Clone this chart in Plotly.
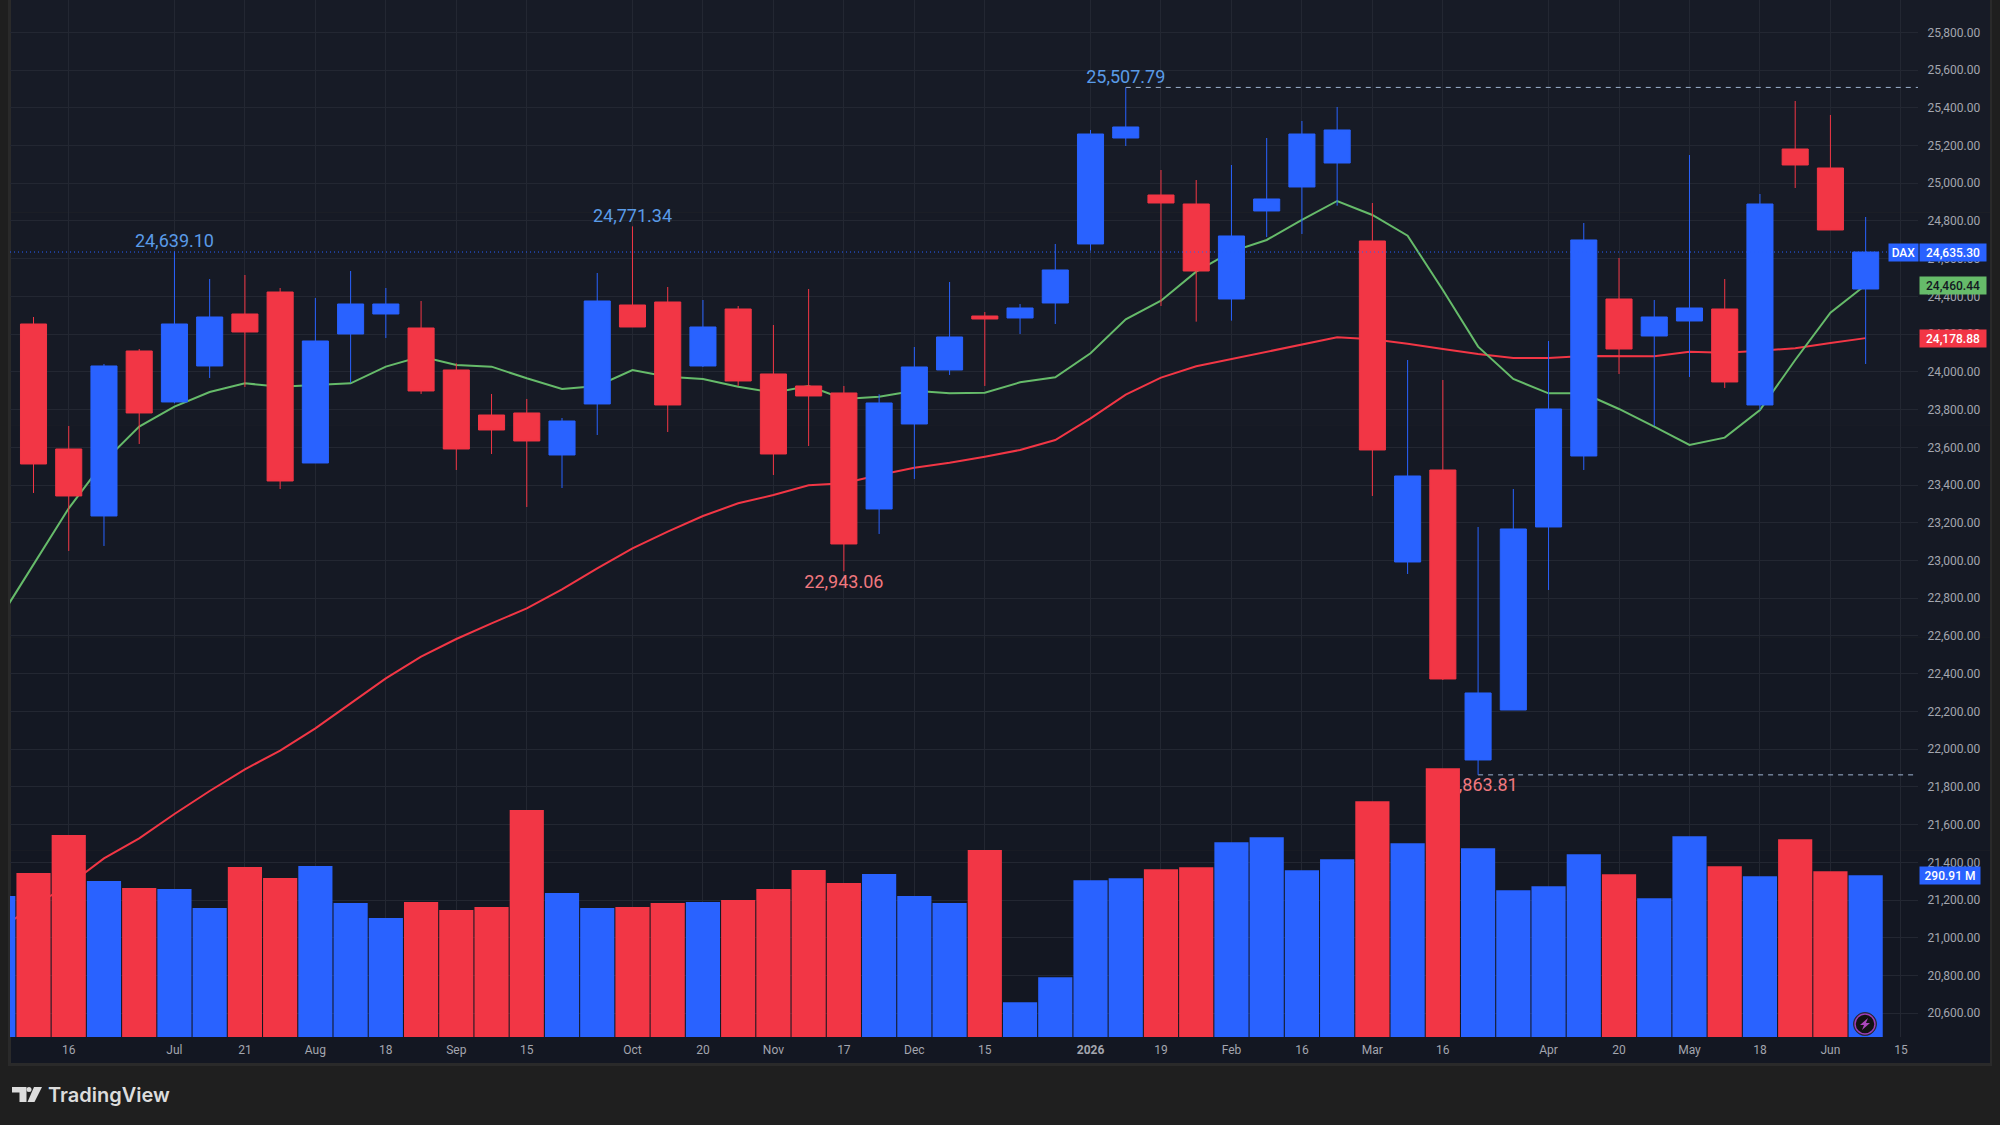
import pandas as pd
import plotly.graph_objects as go

# Weekly DAX candles, June 2025 to June 2026
first_week = "2025-06-09"
opens = [24253.8, 23591.2, 23236.1, 24110.7, 23840.4, 24031.2, 24306.8, 24423.4, 23517.0, 24200.8,
         24306.8, 24232.6, 24010.0, 23771.4, 23782.1, 23559.4, 23829.8, 24354.5, 24370.4, 24031.2,
         24333.3, 23988.8, 23925.2, 23888.1, 23273.2, 23723.7, 24010.0, 24296.2, 24285.6, 24365.1,
         24677.9, 25239.7, 24937.6, 24889.9, 24386.3, 24852.8, 24980.0, 25107.2, 24693.8, 22992.2,
         23479.9, 21942.7, 22207.7, 23177.8, 23554.1, 24386.3, 24190.2, 24269.7, 24333.3, 23824.5,
         25181.4, 25080.7, 24439.3]
highs = [24290.9, 23713.1, 24041.8, 24121.3, 24639.10, 24492.3, 24513.5, 24444.6, 24391.6, 24534.7,
         24444.6, 24375.7, 24045.3, 23882.8, 23856.3, 23755.5, 24524.1, 24771.34, 24449.9, 24381.0,
         24349.2, 24248.5, 24439.3, 23925.2, 23881.0, 24131.9, 24476.4, 24317.4, 24359.8, 24677.9,
         25282.2, 25507.79, 25070.1, 25017.1, 25096.6, 25239.7, 25329.9, 25404.1, 24895.2, 24063.0,
         23957.0, 23177.8, 23379.2, 24163.7, 24789.2, 24603.7, 24381.0, 25149.6, 24492.3, 24942.9,
         25435.9, 25361.7, 24821.0]
lows = [23358.0, 23050.6, 23077.1, 23617.7, 23833.3, 23967.6, 23919.9, 23379.2, 23517.0, 23942.8,
        24179.6, 23882.8, 23479.9, 23564.7, 23283.8, 23384.5, 23665.4, 24237.9, 23681.3, 24025.9,
        23925.2, 23453.4, 23607.1, 22943.06, 23140.7, 23432.2, 23983.5, 23925.2, 24200.8, 24253.8,
        24642.5, 25197.3, 24349.2, 24266.2, 24271.5, 24715.0, 24730.9, 24881.1, 23342.1, 22928.6,
        22366.8, 21863.81, 22207.7, 22843.8, 23479.9, 23988.8, 23713.2, 23972.9, 23914.6, 23798.0,
        24974.7, 24752.1, 24041.8]
closes = [23511.7, 23342.1, 24031.2, 23782.1, 24253.8, 24290.9, 24211.4, 23421.6, 24163.7, 24359.8,
          24359.8, 23898.7, 23591.2, 23691.9, 23633.6, 23739.6, 24375.7, 24237.9, 23824.5, 24237.9,
          23951.7, 23564.7, 23872.2, 23087.7, 23835.1, 24025.9, 24184.9, 24280.3, 24338.6, 24540.1,
          25260.9, 25298.1, 24895.2, 24534.7, 24720.3, 24916.4, 25260.9, 25282.2, 23585.9, 23448.1,
          22372.1, 22297.9, 23167.2, 23803.3, 24699.1, 24121.3, 24290.9, 24338.6, 23946.4, 24889.9,
          25096.6, 24752.1, 24635.30]

# Moving averages start one week earlier than the visible candles
ma_fast = [22681.0, 22976.3, 23276.7, 23524.1, 23709.6, 23815.6, 23893.4, 23939.3, 23921.6, 23930.5,
           23939.3, 24027.6, 24080.7, 24036.5, 24027.6, 23965.8, 23909.3, 23925.2, 24010.0, 23974.6,
           23962.3, 23921.6, 23889.8, 23925.2, 23856.3, 23868.6, 23900.4, 23886.3, 23889.8, 23944.6,
           23971.1, 24098.3, 24278.5, 24377.5, 24531.2, 24637.2, 24699.1, 24805.1, 24905.8, 24831.6,
           24722.0, 24434.0, 24133.7, 23962.3, 23886.3, 23886.3, 23803.3, 23709.6, 23612.4, 23651.3,
           23798.0, 24063.0, 24313.9, 24460.44]
ma_slow = [21041.5, 21168.8, 21280.1, 21421.4, 21527.4, 21656.4, 21778.3, 21893.2, 21992.1, 22110.5,
           22243.0, 22375.6, 22490.4, 22584.0, 22667.1, 22746.6, 22847.4, 22958.7, 23064.7, 23153.0,
           23236.1, 23303.2, 23347.4, 23398.6, 23409.2, 23453.4, 23492.3, 23518.8, 23550.6, 23585.9,
           23638.9, 23753.8, 23879.2, 23969.3, 24029.4, 24068.3, 24103.6, 24142.5, 24183.2, 24172.5,
           24149.6, 24121.3, 24094.8, 24073.6, 24073.6, 24084.2, 24082.4, 24082.4, 24107.2, 24101.9,
           24112.5, 24124.8, 24153.1, 24178.88]

# Volume in millions, including the partly visible first week
volumes = [253.7, 295.1, 363.5, 280.7, 268.1, 266.3, 232.1, 305.9, 286.1, 307.7, 241.1, 214.1, 242.9, 228.5,
           233.9, 408.5, 259.1, 232.1, 233.9, 241.1, 242.9, 246.5, 266.3, 300.5, 277.1, 293.3, 253.7, 241.1,
           336.5, 62.4, 107.4, 281.9, 285.5, 301.7, 305.3, 350.3, 359.3, 299.9, 319.7, 424.1, 348.5, 483.4,
           339.5, 263.9, 271.1, 328.7, 292.7, 249.5, 361.1, 307.1, 289.1, 355.7, 298.1, 290.91]
volume_up = [1, 0, 0, 1, 0, 1, 1, 0, 0, 1, 1, 1, 0, 0, 0, 0, 1, 1, 0, 0, 1, 0, 0, 0, 0, 1, 1, 1,
             0, 1, 1, 1, 1, 0, 0, 1, 1, 1, 1, 0, 1, 0, 1, 1, 1, 1, 0, 1, 1, 0, 1, 0, 0, 1]

price_ticks = list(range(20600, 26000, 200))
time_labels = ["16", "Jul", "21", "Aug", "18", "Sep", "15", "Oct", "20", "Nov", "17", "Dec", "15",
               "<b>2026</b>", "19", "Feb", "16", "Mar", "16", "Apr", "20", "May", "18", "Jun", "15"]
time_dates = ["2025-06-16", "2025-07-07", "2025-07-21", "2025-08-04", "2025-08-18", "2025-09-01",
              "2025-09-15", "2025-10-06", "2025-10-20", "2025-11-03", "2025-11-17", "2025-12-01",
              "2025-12-15", "2026-01-05", "2026-01-19", "2026-02-02", "2026-02-16", "2026-03-02",
              "2026-03-16", "2026-04-06", "2026-04-20", "2026-05-04", "2026-05-18", "2026-06-01",
              "2026-06-15"]

BLUE = "#2962ff"
RED = "#f23645"
GREEN = "#66bb6a"
PAPER = "#1f1f1f"
PANEL_EDGE = "#2a2a2a"
GRID = "#232732"
TICK_TEXT = "#a3a6af"
SANS = "Roboto, Arial, sans-serif"

# Canvas geometry in pixels
WIDTH, HEIGHT = 2000, 1125
PLOT_L, PLOT_R, PLOT_B = 10, 1918, 1037
PANEL_R, PANEL_B = 1990, 1063


def px(x):
    return (x - PLOT_L) / (PLOT_R - PLOT_L)


def py(y):
    return 1 - y / PLOT_B


weeks = pd.date_range(first_week, periods=len(closes), freq="7D")
volume_weeks = pd.date_range(weeks[0] - pd.Timedelta(days=7), periods=len(volumes), freq="7D")
x_start = weeks[0] - pd.Timedelta(days=4.67)
x_end = weeks[0] + pd.Timedelta(days=374.4)
price_range = [20474.3, 25971.2]
volume_range = [0, 1866]

fig = go.Figure()

# Base layer: averages, extreme-price guides and their labels sit under everything else
fig.add_trace(go.Scatter(x=volume_weeks, y=ma_slow, mode="lines", line=dict(color=RED, width=2), yaxis="y"))
fig.add_trace(go.Scatter(x=volume_weeks, y=ma_fast, mode="lines", line=dict(color=GREEN, width=2), yaxis="y"))

top_week = highs.index(max(highs))
low_week = lows.index(min(lows))
for week_index, level in ((top_week, highs[top_week]), (low_week, lows[low_week])):
    fig.add_trace(go.Scatter(x=[weeks[week_index], x_end], y=[level, level], mode="lines",
                             line=dict(color="#9db2d0", width=1, dash="5px,5px"), yaxis="y"))

marked_highs = [4, 17, 31]
fig.add_trace(go.Scatter(x=[weeks[i] for i in marked_highs], y=[highs[i] for i in marked_highs], mode="text",
                         text=[f"{highs[i]:,.2f}" for i in marked_highs], textposition="top center",
                         textfont=dict(family=SANS, size=18, color="#5a9be8"), yaxis="y"))
# The invisible markers push the low labels a little further from the wick tips
marked_lows = [23, 41]
fig.add_trace(go.Scatter(x=[weeks[i] for i in marked_lows], y=[lows[i] for i in marked_lows], mode="markers+text",
                         marker=dict(size=3, opacity=0),
                         text=[f"{lows[i]:,.2f}" for i in marked_lows], textposition="bottom center",
                         textfont=dict(family=SANS, size=18, color="#f0787f"), yaxis="y"))

# Volume columns sit above the base layer
fig.add_trace(go.Bar(x=volume_weeks, y=volumes, marker=dict(color=[BLUE if u else RED for u in volume_up], line_width=0),
                     yaxis="y2"))

# Candles and the last-price line on top
fig.add_trace(go.Candlestick(x=weeks, open=opens, high=highs, low=lows, close=closes, yaxis="y3",
                             whiskerwidth=0,
                             increasing=dict(line=dict(color=BLUE, width=1), fillcolor=BLUE),
                             decreasing=dict(line=dict(color=RED, width=1), fillcolor=RED)))
fig.add_trace(go.Scatter(x=[x_start, x_end], y=[closes[-1], closes[-1]], mode="lines",
                         line=dict(color=BLUE, width=1, dash="1px,3px"), yaxis="y3"))

# Page chrome drawn beneath the plot: panel, border and a faint vertical gradient
shapes = [dict(type="rect", xref="paper", yref="paper", x0=px(8), x1=px(PANEL_R + 2), y0=py(PANEL_B + 3), y1=py(0),
               fillcolor=PANEL_EDGE, line_width=0, layer="below")]
band_colors = ["#171b26", "#161a25", "#151924", "#141823", "#131722"]
for i, band in enumerate(band_colors):
    shapes.append(dict(type="rect", xref="paper", yref="paper", x0=px(11), x1=px(PANEL_R),
                       y0=py(PANEL_B * (i + 1) / len(band_colors)), y1=py(PANEL_B * i / len(band_colors)),
                       fillcolor=band, line_width=0, layer="below"))


def paper_path(points):
    return "M" + "L".join(f"{px(x):.6f},{py(y):.6f}" for x, y in points) + "Z"


# Alert badge on the latest volume column
shapes += [
    dict(type="circle", xref="paper", yref="paper", x0=px(1853.5), x1=px(1876.5), y0=py(1035.5), y1=py(1012.5),
         fillcolor="#141420", line=dict(color="#2a2e39", width=1)),
    dict(type="circle", xref="paper", yref="paper", x0=px(1855), x1=px(1875), y0=py(1034), y1=py(1014),
         fillcolor="#121212", line=dict(color="#9c3fb5", width=1.5)),
    dict(type="path", xref="paper", yref="paper", fillcolor="#ab47bc", line_width=0,
         path=paper_path([(1868, 1018), (1860, 1025), (1864, 1025), (1862, 1030), (1870, 1023), (1866, 1023)])),
]

# TradingView mark beside the wordmark
shapes += [
    dict(type="path", xref="paper", yref="paper", fillcolor="#dcdcdc", line_width=0,
         path=paper_path([(12, 1087), (26.5, 1087), (26.5, 1102), (19.5, 1102), (19.5, 1092.5), (12, 1092.5)])),
    dict(type="circle", xref="paper", yref="paper", fillcolor="#dcdcdc", line_width=0,
         x0=px(26.5), x1=px(31.5), y0=py(1092), y1=py(1087)),
    dict(type="path", xref="paper", yref="paper", fillcolor="#dcdcdc", line_width=0,
         path=paper_path([(34, 1087), (42, 1087), (34.5, 1102), (27.5, 1102)])),
]


def price_tag(text, level, axis, x0, width, bg, fg):
    return dict(text=text, xref="paper", yref=axis, x=px(x0), y=level, xanchor="left", yanchor="middle",
                width=width, height=17, bgcolor=bg, align="center", showarrow=False, borderpad=0,
                font=dict(family=SANS, size=12, color=fg, weight=500))


annotations = [
    price_tag("DAX", closes[-1], "y", 1888, 29, BLUE, "#ffffff"),
    price_tag(f"{closes[-1]:,.2f}", closes[-1], "y", 1919, 66, BLUE, "#ffffff"),
    price_tag(f"{ma_fast[-1]:,.2f}", ma_fast[-1], "y", 1919, 66, GREEN, "#131722"),
    price_tag(f"{ma_slow[-1]:,.2f}", ma_slow[-1], "y", 1919, 66, RED, "#ffffff"),
    price_tag(f"{volumes[-1]:.2f} M", volumes[-1], "y2", 1919, 60, BLUE, "#ffffff"),
    dict(text="TradingView", xref="paper", yref="paper", x=px(46), y=py(1095), xanchor="left", yanchor="middle",
         showarrow=False, font=dict(family="Inter, sans-serif", size=20, color="#dcdcdc", weight=600)),
]

fig.update_layout(
    width=WIDTH,
    height=HEIGHT,
    margin=dict(l=PLOT_L, r=WIDTH - PLOT_R, t=0, b=HEIGHT - PLOT_B, pad=0, autoexpand=False),
    paper_bgcolor=PAPER,
    plot_bgcolor="rgba(0,0,0,0)",
    showlegend=False,
    hovermode=False,
    bargap=0.03,
    boxgap=0.26,
    boxgroupgap=0,
    shapes=shapes,
    annotations=annotations,
    xaxis=dict(type="date", range=[x_start, x_end], tickmode="array", tickvals=time_dates, ticktext=time_labels,
               showgrid=True, gridcolor=GRID, gridwidth=1, zeroline=False, showline=False,
               ticks="outside", ticklen=2, tickcolor="rgba(0,0,0,0)", rangeslider=dict(visible=False),
               tickfont=dict(family=SANS, size=12, color=TICK_TEXT)),
    yaxis=dict(range=price_range, side="right", tickmode="array", tickvals=price_ticks, tickformat=",.2f",
               showgrid=True, gridcolor=GRID, gridwidth=1, zeroline=False, showline=False,
               ticks="outside", ticklen=6, tickcolor="rgba(0,0,0,0)",
               tickfont=dict(family=SANS, size=12, color=TICK_TEXT)),
    yaxis2=dict(range=volume_range, overlaying="y", visible=False),
    yaxis3=dict(range=price_range, overlaying="y", visible=False),
)

fig.write_html("out.html")
